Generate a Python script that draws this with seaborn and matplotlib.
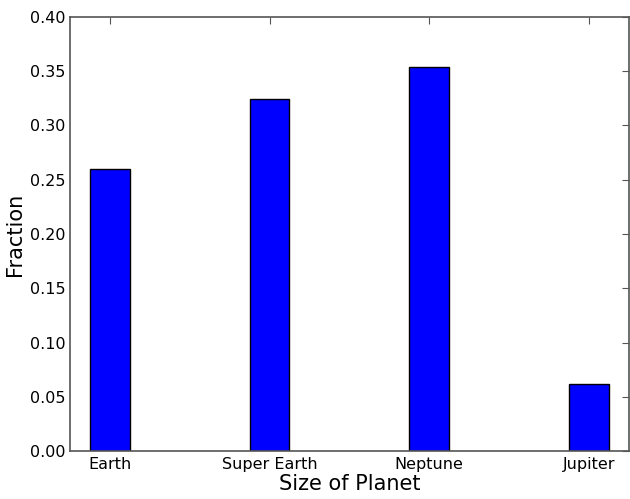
import matplotlib
matplotlib.use("Agg")
from matplotlib import pyplot as plt
import numpy as np
import pandas as pd
import seaborn as sns

# Data
planets = ["Earth", "Super Earth", "Neptune", "Jupiter"]
fractions = [0.260, 0.324, 0.354, 0.0615]
yticks = [0.00, 0.05, 0.10, 0.15, 0.20, 0.25, 0.30, 0.35, 0.40]

df = pd.DataFrame({"planet": planets, "fraction": fractions})

sns.set_style("white")
plt.rcParams["font.family"] = ["DejaVu Sans"]
plt.rcParams["text.color"] = "black"
plt.rcParams["axes.labelcolor"] = "black"
plt.rcParams["xtick.labelcolor"] = "black"
plt.rcParams["ytick.labelcolor"] = "black"

fig = plt.figure(figsize=(6.3, 4.99), dpi=100)
ax = fig.add_axes([0.111, 0.096, 0.887, 0.870])

sns.barplot(data=df, x="planet", y="fraction", color="blue", saturation=1,
            width=0.25, edgecolor="black", linewidth=1, ax=ax)

ax.set_xlim(-0.25, 3.25)
ax.set_ylim(0, 0.40)
ax.set_yticks(yticks)
ax.set_yticklabels([f"{t:.2f}" for t in yticks])

ax.set_xlabel("Size of Planet", fontsize=15, labelpad=2)
ax.set_ylabel("Fraction", fontsize=15, labelpad=4)

for s in ax.spines.values():
    s.set_visible(True)
    s.set_color("#555555")
    s.set_linewidth(1.2)

ax.tick_params(direction="in", top=True, right=True, length=5,
               labelsize=11.5, color="#555555")
ax.tick_params(axis="x", pad=4)
ax.tick_params(axis="y", pad=3)

fig.savefig("out.png", dpi=100)
